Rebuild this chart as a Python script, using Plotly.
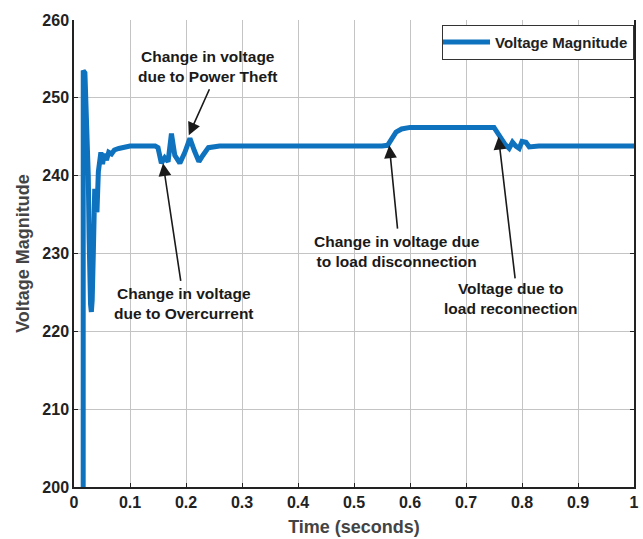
import plotly.graph_objects as go

# Voltage magnitude trace (time in seconds, voltage in volts)
time_s = [0.0160, 0.0165, 0.0195, 0.0225, 0.0255, 0.0270, 0.0280, 0.0295, 0.0310,
          0.0325, 0.0345, 0.0355, 0.0370, 0.0395, 0.0410, 0.0435, 0.0460, 0.0480,
          0.0510, 0.0540, 0.0580, 0.0620, 0.0670, 0.0720, 0.0800, 0.0900,
          0.1000, 0.1450, 0.1500, 0.1560, 0.1620, 0.1680, 0.1740, 0.1800, 0.1890,
          0.1980, 0.2070, 0.2150, 0.2230, 0.2300, 0.2400, 0.2600, 0.3500, 0.4000,
          0.5500, 0.5600, 0.5750, 0.5850, 0.6000, 0.7500, 0.7550, 0.7620, 0.7700,
          0.7770, 0.7830, 0.7890, 0.7950, 0.8000, 0.8070, 0.8130, 0.8200, 0.8300,
          1.0000]
voltage = [0.0, 253.5, 253.2, 248.0, 240.0, 232.0, 226.0, 223.5, 222.5,
           224.0, 230.0, 236.0, 238.3, 236.0, 235.3, 240.5, 242.6, 243.0,
           241.5, 242.8, 242.0, 243.0, 242.8, 243.3, 243.5, 243.6,
           243.8, 243.8, 243.6, 241.6, 242.3, 241.8, 245.4, 242.6, 241.6,
           243.0, 244.8, 243.2, 241.8, 242.6, 243.6, 243.8, 243.8, 243.7,
           243.8, 243.9, 245.6, 246.0, 246.2, 246.2, 245.6, 244.8, 244.0,
           243.5, 244.3, 243.8, 243.5, 244.4, 244.3, 243.7, 243.8, 243.8,
           243.8]

x_ticks = [0, 0.1, 0.2, 0.3, 0.4, 0.5, 0.6, 0.7, 0.8, 0.9, 1]
x_tick_labels = ["0", "0.1", "0.2", "0.3", "0.4", "0.5", "0.6", "0.7", "0.8", "0.9", "1"]
y_ticks = [200, 210, 220, 230, 240, 250, 260]

# Event notes: label text, label position, arrow tail, arrow tip
note_texts = ["Change in voltage<br>due to Power Theft",
              "Change in voltage<br>due to Overcurrent",
              "Change in voltage due<br>to load disconnection",
              "Voltage due to<br>load reconnection"]
note_pos = [(0.239, 254.0), (0.196, 223.6), (0.576, 230.3), (0.781, 224.2)]
arrow_tail = [(0.243, 251.3), (0.191, 226.3), (0.578, 233.0), (0.788, 226.6)]
arrow_tip = [(0.205, 245.2), (0.159, 241.6), (0.563, 243.9), (0.758, 245.0)]

FONT = "Liberation Sans, Arial, sans-serif"

fig = go.Figure()
fig.add_trace(go.Scatter(
    x=time_s, y=voltage, mode="lines", name="<b>Voltage Magnitude</b>",
    line=dict(color="#0E72BE", width=5),
))

annotations = []
for txt, (tx, ty) in zip(note_texts, note_pos):
    annotations.append(dict(
        x=tx, y=ty, xref="x", yref="y", text="<b>" + txt + "</b>",
        showarrow=False, font=dict(family=FONT, size=15.5, color="#1a1a1a"),
        align="center",
    ))
for (ax_, ay_), (hx, hy) in zip(arrow_tail, arrow_tip):
    annotations.append(dict(
        x=hx, y=hy, ax=ax_, ay=ay_, xref="x", yref="y", axref="x", ayref="y",
        text="", showarrow=True, arrowhead=2, arrowsize=1.6, arrowwidth=1.6,
        arrowcolor="#1a1a1a", standoff=0,
    ))

fig.update_layout(
    width=643, height=539,
    margin=dict(l=74, r=9, t=20, b=52),
    paper_bgcolor="white", plot_bgcolor="white",
    font=dict(family=FONT, color="#222222"),
    showlegend=True,
    legend=dict(
        x=1, y=0.99, xanchor="right", yanchor="top",
        bgcolor="white", bordercolor="#333333", borderwidth=1,
        font=dict(family=FONT, size=15, color="#222222"),
        itemwidth=48, tracegroupgap=0, indentation=-6,
    ),
    annotations=annotations,
)

fig.update_xaxes(
    range=[0, 1], tickvals=x_ticks, ticktext=["<b>" + s + "</b>" for s in x_tick_labels],
    showgrid=True, gridcolor="#c4c4c4", gridwidth=1,
    showline=True, linecolor="#222222", linewidth=1.5, mirror=False,
    ticks="inside", ticklen=4, tickcolor="#222222",
    tickfont=dict(family=FONT, size=16, color="#222222"),
    title=dict(text="<b>Time (seconds)</b>", font=dict(family=FONT, size=18, color="#444444"),
               standoff=10),
    zeroline=False, automargin=False,
)
fig.update_yaxes(
    range=[200, 260], tickvals=y_ticks, ticktext=["<b>%d</b>" % v for v in y_ticks],
    showgrid=True, gridcolor="#c4c4c4", gridwidth=1,
    showline=True, linecolor="#222222", linewidth=1.5, mirror="ticks",
    ticks="inside", ticklen=4, tickcolor="#222222",
    tickfont=dict(family=FONT, size=16, color="#222222"),
    title=dict(text="<b>Voltage Magnitude</b>", font=dict(family=FONT, size=18, color="#444444"),
               standoff=8),
    zeroline=False, automargin=False,
)

fig.write_html("out.html")
